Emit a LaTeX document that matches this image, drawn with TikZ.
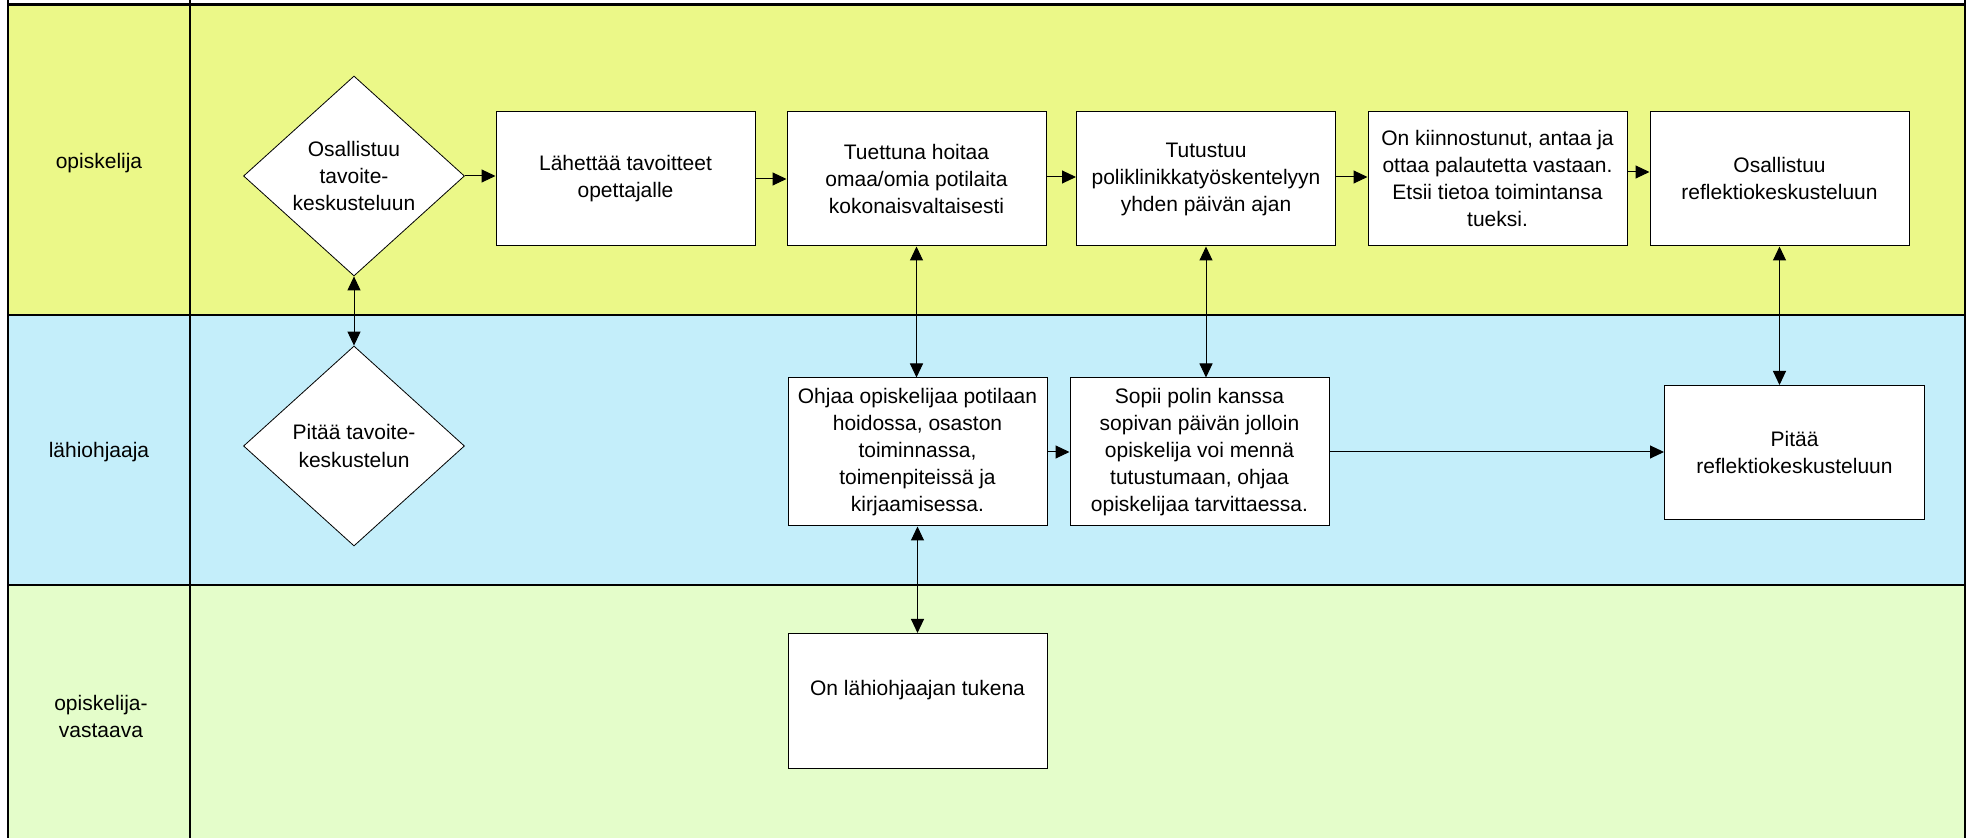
\documentclass[tikz,border=0pt]{standalone}
\usepackage{fontspec}
\setmainfont{Liberation Sans}
\usetikzlibrary{shapes.geometric,arrows.meta}

\definecolor{laneyellow}{RGB}{235,248,136}
\definecolor{laneblue}{RGB}{196,238,250}
\definecolor{lanegreen}{RGB}{228,253,202}

\begin{document}
\begin{tikzpicture}[x=0.5pt,y=-0.5pt,>={Triangle[length=7pt,width=6.5pt]}]
\tikzstyle{txt}=[font=\fontsize{10.5}{13.5}\selectfont,align=center]
\tikzstyle{task}=[txt,rectangle,draw,fill=white,line width=0.5pt,minimum width=129.5pt,minimum height=67pt]
\tikzstyle{choice}=[txt,diamond,draw,fill=white,line width=0.4pt,inner sep=0pt,minimum width=110.5pt,minimum height=100pt]
\tikzstyle{border}=[line width=1.3pt]
\tikzstyle{link}=[line width=0.5pt]
\useasboundingbox (0,0) rectangle (1967,838);
% lanes
\fill[laneyellow] (8,4.5) rectangle (1965,315);
\fill[laneblue] (8,315) rectangle (1965,585);
\fill[lanegreen] (8,585) rectangle (1965,838);
\draw[border] (8,4.5) -- (1965,4.5) (8,315) -- (1965,315) (8,585) -- (1965,585);
\draw[border] (8,0) -- (8,838) (190,0) -- (190,838) (1965,0) -- (1965,838);
\node[txt] (opiskelija) at (99,163) {opiskelija};
\node[txt] (lahiohjaaja) at (99,452) {lähiohjaaja};
\node[txt] (vastaava) at (101,716) {opiskelija-\\vastaava};
% opiskelija
\node[choice] (osallistuu) at (354,176) {Osallistuu\\tavoite-\\keskusteluun};
\node[task] (lahettaa) at (625.5,179) {Lähettää tavoitteet\\opettajalle};
\node[task] (tuettuna) at (916.5,179) {Tuettuna hoitaa\\omaa/omia potilaita\\kokonaisvaltaisesti};
\node[task] (tutustuu) at (1206,179) {Tutustuu\\poliklinikkatyöskentelyyn\\yhden päivän ajan};
\node[task] (kiinnostunut) at (1497.5,179) {On kiinnostunut, antaa ja\\ottaa palautetta vastaan.\\Etsii tietoa toimintansa\\tueksi.};
\node[task] (reflektio) at (1779.5,179) {Osallistuu\\reflektiokeskusteluun};
% lahiohjaaja
\node[choice] (pitaa) at (354,446) {Pitää tavoite-\\keskustelun};
\node[task,minimum height=74pt] (ohjaa) at (917.5,452) {Ohjaa opiskelijaa potilaan\\hoidossa, osaston\\toiminnassa,\\toimenpiteissä ja\\kirjaamisessa.};
\node[task,minimum height=74pt] (sopii) at (1199.5,452) {Sopii polin kanssa\\sopivan päivän jolloin\\opiskelija voi mennä\\tutustumaan, ohjaa\\opiskelijaa tarvittaessa.};
\node[task,minimum width=130pt] (pitaarefl) at (1794.5,452.5) {Pitää\\reflektiokeskusteluun};
% opiskelijavastaava
\node[task,minimum height=67.5pt] (tukena) at (917.5,701) {On lähiohjaajan tukena\\~};
% connectors
\draw[link,->] (osallistuu.east) -- (osallistuu.east -| lahettaa.west);
\draw[link,->] (lahettaa) -- (tuettuna);
\draw[link,->] ([yshift=1pt]tuettuna.east) -- ([yshift=1pt]tutustuu.west);
\draw[link,->] ([yshift=1pt]tutustuu.east) -- ([yshift=1pt]kiinnostunut.west);
\draw[link,->] ([yshift=3.5pt]kiinnostunut.east) -- ([yshift=3.5pt]reflektio.west);
\draw[link,<->] (osallistuu.south) -- (pitaa.north);
\draw[link,<->] (tuettuna.south) -- (tuettuna.south |- ohjaa.north);
\draw[link,<->] (tutustuu.south) -- (tutustuu.south |- sopii.north);
\draw[link,<->] (reflektio.south) -- (reflektio.south |- pitaarefl.north);
\draw[link,->] (ohjaa) -- (sopii);
\draw[link,->] (sopii.east) -- (sopii.east -| pitaarefl.west);
\draw[link,<->] (ohjaa.south) -- (ohjaa.south |- tukena.north);
\end{tikzpicture}
\end{document}
